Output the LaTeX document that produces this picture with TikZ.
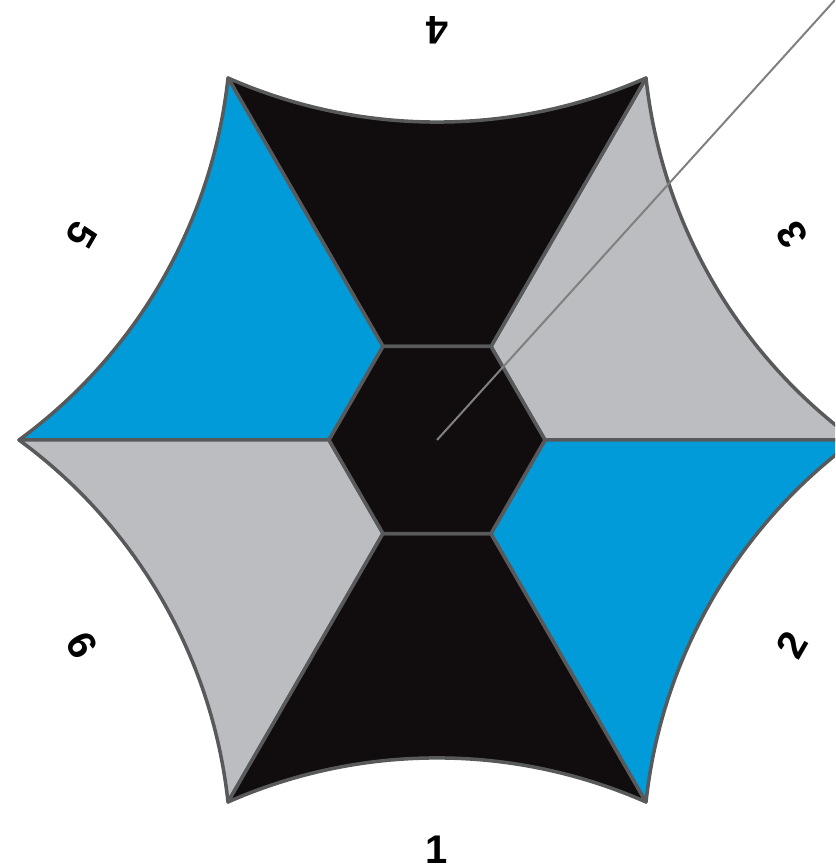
\documentclass[tikz,border=0pt]{standalone}
\usepackage{fontspec}
\setmainfont{Liberation Sans}
\usetikzlibrary{calc}
\definecolor{coreblack}{RGB}{17,13,14}
\definecolor{skyblue}{RGB}{0,155,216}
\definecolor{shadegray}{RGB}{188,189,192}
\definecolor{edgegray}{RGB}{88,89,91}
\definecolor{pointergray}{RGB}{128,128,128}
\tikzset{
	sector/.style={draw=edgegray, line width=3.5pt, line join=round},
	numlabel/.style={font=\fontsize{40}{40}\selectfont\bfseries, inner sep=0pt, text=black},
	pointer/.style={draw=pointergray, line width=2pt}
}

\begin{document}
\begin{tikzpicture}[x=1pt, y=1pt]
			\clip (0,0) rectangle (835,866);
			\coordinate (c) at (437,426);
			\coordinate (tip) at (835,866);

			% outer and inner corners
			\foreach \k in {0,...,5} {
				\coordinate (o\k) at ($(c)+(\k*60:418)$);
				\coordinate (i\k) at ($(c)+(\k*60:108)$);
			}

			% six curved sectors
			\foreach \k/\col in {0/shadegray,1/coreblack,2/skyblue,3/shadegray,4/coreblack,5/skyblue} {
				\pgfmathtruncatemacro\j{mod(\k+1,6)}
				\filldraw[sector, fill=\col] (i\k) -- (o\k)
				.. controls ($(o\k)!145.6pt!23.8:(o\j)$) and ($(o\j)!145.6pt!-23.8:(o\k)$) .. (o\j)
				-- (i\j) -- cycle;
			}

			% centre hexagon
			\filldraw[sector, fill=coreblack] (i0) -- (i1) -- (i2) -- (i3) -- (i4) -- (i5) -- cycle;

			\draw[pointer] (c) -- (tip);

			\foreach \n/\a in {1/-90,2/-30,3/30,4/90,5/150,6/210}
			\node[numlabel, rotate=\a+90] (lab\n) at ($(c)+(\a:410)$) {\n};
		\end{tikzpicture}
\end{document}
